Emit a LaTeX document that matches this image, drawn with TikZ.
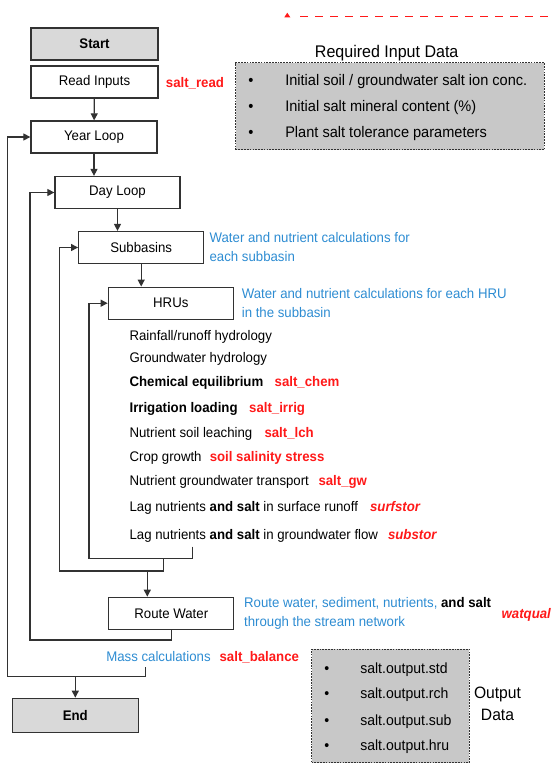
\documentclass[tikz,border=0pt]{standalone}
\usepackage{fontspec}
\setmainfont{Liberation Sans}[FakeStretch=0.95]
\usetikzlibrary{arrows.meta,positioning}
\definecolor{boxGray}{RGB}{217,217,217}
\definecolor{dataGray}{RGB}{200,200,200}
\definecolor{noteBlue}{RGB}{45,140,210}
\definecolor{lineGray}{RGB}{50,50,50}
\definecolor{saltRed}{RGB}{255,25,25}
\newcommand\figfont{\fontsize{9.9}{13.5}\selectfont}
\newcommand\datafont{\fontsize{10.9}{13.5}\selectfont}
\tikzset{
    >={Triangle[length=5pt,width=5pt]},
    flow/.style={draw=lineGray,line width=0.9pt},
    stepbox/.style={rectangle,draw=lineGray,line width=0.9pt,fill=white,font=\figfont,
        minimum width=#1,minimum height=0.8cm,inner sep=0pt},
    stepbox/.default=3.125cm,
    endbox/.style={stepbox=#1,fill=boxGray,font=\figfont\bfseries},
    endbox/.default=3.125cm,
    txt/.style={anchor=west,inner sep=0pt,text height=0.72em,text depth=0pt,font=\figfont},
    note/.style={anchor=west,inner sep=0pt,align=left,text=noteBlue,font=\figfont},
    saltname/.style={txt,text=saltRed,font=\figfont\bfseries},
    databox/.style={rectangle,draw=lineGray,fill=dataGray,line width=0.8pt,
        dash pattern=on 1.2pt off 0.8pt,inner sep=0pt},
    dataitem/.style={txt,font=\datafont}
}

\begin{document}
\begin{tikzpicture}[x=0.025cm,y=-0.025cm]
  \useasboundingbox (0,0) rectangle (553,764);

  % red dashed guide at the top
  \fill[saltRed] (284.3,17.3) -- (290.3,17.3) -- (287.3,12.7) -- cycle;
  \draw[saltRed,line width=0.7pt,dash pattern=on 0.2cm off 0.175cm] (300,16) -- (553,16);

  \node[endbox=3.175cm] (start) at (94.5,44) {Start};
  \node[stepbox=3.175cm] (read) at (94.5,82) {Read Inputs};
  \node[stepbox=3.15cm] (year) at (94,137) {Year Loop};
  \node[stepbox] (day) at (117.5,192.5) {Day Loop};
  \node[stepbox] (sub) at (141.2,247.5) {Subbasins};
  \node[stepbox] (hru) at (170.8,303.2) {HRUs};
  \node[stepbox] (route) at (171.3,613.3) {Route Water};
  \node[endbox=3.15cm,minimum height=0.85cm] (finish) at (75.3,715.3) {End};

  \draw[flow,->] (read) -- (year);
  \draw[flow,->] (year.south) -- (year.south |- day.north);
  \draw[flow,->] (day.south) -- (day.south |- sub.north);
  \draw[flow,->] (sub.south) -- (sub.south |- hru.north);

  \node[saltname,right=0.175cm of read] (saltread) {salt\_read};
  \node[note,right=0.125cm of sub] (subnote) {Water and nutrient calculations for\\each subbasin};
  \node[note,right=0.19cm of hru] (hrunote) {Water and nutrient calculations for each HRU\\in the subbasin};
  \node[note,right=0.235cm of route] (routenote)
    {Route water, sediment, nutrients, \textcolor{black}{\textbf{and salt}}\\through the stream network};
  \node[saltname,font=\figfont\bfseries\itshape,right=0.25cm of routenote] (watqual) {watqual};

  % HRU processes
  \node[txt] (rain) at (129.3,335) {Rainfall/runoff hydrology};
  \node[txt] (gwhyd) at (129.3,357.7) {Groundwater hydrology};
  \node[txt,font=\figfont\bfseries] (chem) at (129.3,381.7) {Chemical equilibrium};
  \node[txt,font=\figfont\bfseries] (irrig) at (129.3,407.3) {Irrigation loading};
  \node[txt] (leach) at (129.3,432.7) {Nutrient soil leaching};
  \node[txt] (crop) at (129.3,456.7) {Crop growth};
  \node[txt] (gwtrans) at (129.3,480) {Nutrient groundwater transport};
  \node[txt] (lagsurf) at (129.3,506.7) {Lag nutrients \textbf{and salt} in surface runoff};
  \node[txt] (laggw) at (129.3,534) {Lag nutrients \textbf{and salt} in groundwater flow};

  \node[saltname,right=0.27cm of chem] (saltchem) {salt\_chem};
  \node[saltname,right=0.275cm of irrig] (saltirrig) {salt\_irrig};
  \node[saltname,right=0.29cm of leach] (saltlch) {salt\_lch};
  \node[saltname,right=0.19cm of crop] (stress) {soil salinity stress};
  \node[saltname,right=0.225cm of gwtrans] (saltgw) {salt\_gw};
  \node[saltname,font=\figfont\bfseries\itshape,right=0.29cm of lagsurf] (surfstor) {surfstor};
  \node[saltname,font=\figfont\bfseries\itshape,right=0.235cm of laggw] (substor) {substor};

  \node[note] (mass) at (106,656.7) {Mass calculations};
  \node[saltname,right=0.21cm of mass] (balance) {salt\_balance};

  % loops
  \coordinate (hruret) at (192.7,546.7);
  \coordinate (hruleft) at (89,558.3);
  \coordinate (hrujoin) at (163.3,558.3);
  \coordinate (subleft) at (59.3,571);
  \coordinate (subjoin) at (147.3,571);
  \coordinate (dayleft) at (30,640);
  \coordinate (massret) at (145.7,667.3);
  \coordinate (yearleft) at (7.3,676.7);

  \draw[flow,->] (hruret) |- (hruleft) |- (hru.west);
  \draw[flow,->] (hrujoin) |- (subleft) |- (sub.west);
  \draw[flow,->] (subjoin) -- (subjoin |- route.north);
  \draw[flow,->] (route.south) |- (dayleft) |- (day.west);
  \draw[flow,->] (massret) |- (yearleft) |- (year.west);
  \draw[flow,->] (finish.north |- yearleft) -- (finish);

  % input data
  \node[databox,minimum width=7.715cm,minimum height=2.18cm] (inbox) at (390,106.3) {};
  \node[inner sep=0pt,font=\fontsize{12}{14}\selectfont] (intitle) at (386.7,52.7) {Required Input Data};
  \node[dataitem] (inb1) at (248,80) {\textbullet};
  \node[dataitem] (inb2) at (248,106) {\textbullet};
  \node[dataitem] (inb3) at (248,132.7) {\textbullet};
  \node[dataitem] (in1) at (285,80) {Initial soil / groundwater salt ion conc.};
  \node[dataitem] (in2) at (285,106) {Initial salt mineral content (\%)};
  \node[dataitem] (in3) at (285,132.7) {Plant salt tolerance parameters};

  % output data
  \node[databox,minimum width=3.94cm,minimum height=2.835cm] (outbox) at (390.5,706) {};
  \node[dataitem,font=\fontsize{10.5}{13}\selectfont] (outb1) at (324,668.3) {\textbullet};
  \node[dataitem,font=\fontsize{10.5}{13}\selectfont] (outb2) at (324,693.3) {\textbullet};
  \node[dataitem,font=\fontsize{10.5}{13}\selectfont] (outb3) at (324,720) {\textbullet};
  \node[dataitem,font=\fontsize{10.5}{13}\selectfont] (outb4) at (324,745.7) {\textbullet};
  \node[dataitem,font=\fontsize{10.5}{13}\selectfont] (out1) at (360,668.3) {salt.output.std};
  \node[dataitem,font=\fontsize{10.5}{13}\selectfont] (out2) at (360,693.3) {salt.output.rch};
  \node[dataitem,font=\fontsize{10.5}{13}\selectfont] (out3) at (360,720) {salt.output.sub};
  \node[dataitem,font=\fontsize{10.5}{13}\selectfont] (out4) at (360,745.7) {salt.output.hru};
  \node[align=center,inner sep=0pt,font=\fontsize{11.7}{15.6}\selectfont] (outlabel) at (497.5,704) {Output\\Data};
\end{tikzpicture}
\end{document}
